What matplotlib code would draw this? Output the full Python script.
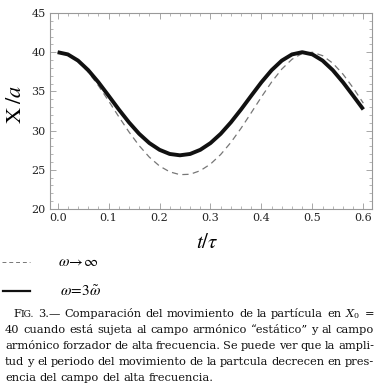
import matplotlib
matplotlib.use("Agg")
import matplotlib.pyplot as plt
from matplotlib.lines import Line2D
from matplotlib.ticker import MultipleLocator

t = [0.00, 0.02, 0.04, 0.06, 0.08, 0.10, 0.12, 0.14, 0.16, 0.18,
     0.20, 0.22, 0.24, 0.26, 0.28, 0.30, 0.32, 0.34, 0.36, 0.38,
     0.40, 0.42, 0.44, 0.46, 0.48, 0.50, 0.52, 0.54, 0.56, 0.58, 0.60]

# campo armónico "estático" (omega -> infinito), línea discontinua
x_estatico = [40.0, 39.70, 38.83, 37.47, 35.74, 33.79, 31.77, 29.83, 28.08, 26.61,
              25.48, 24.74, 24.38, 24.43, 24.89, 25.73, 26.95, 28.49, 30.30, 32.28,
              34.29, 36.20, 37.85, 39.10, 39.84, 39.99, 39.56, 38.60, 37.20, 35.45, 33.50]

# campo forzador de alta frecuencia (omega = 3 omega~), línea continua
x_forzado = [40.0, 39.72, 38.93, 37.71, 36.17, 34.45, 32.70, 31.05, 29.59, 28.41,
             27.55, 27.02, 26.85, 27.02, 27.55, 28.41, 29.59, 31.05, 32.70, 34.45,
             36.17, 37.71, 38.93, 39.72, 40.0, 39.72, 38.93, 37.71, 36.17, 34.45, 32.70]

xticks = [0.0, 0.1, 0.2, 0.3, 0.4, 0.5, 0.6]
yticks = [20, 25, 30, 35, 40, 45]

leyenda = [r"$\omega\!\rightarrow\!\infty$", r"$\omega\!=\!3\tilde{\omega}$"]

pie = [
    [[("F", 8.2), ("IG.", 6.6)], "3.—", "Comparación", "del", "movimiento", "de", "la",
     "partícula", "en", "$X_0$", "="],
    "40 cuando está sujeta al campo armónico “estático” y al campo".split(),
    "armónico forzador de alta frecuencia. Se puede ver que la ampli-".split(),
    "tud y el periodo del movimiento de la partcula decrecen en pres-".split(),
    "encia del campo del alta frecuencia.".split(),
]

W, H = 377, 385
fig = plt.figure(figsize=(W / 100, H / 100), dpi=100)
ax = fig.add_axes([50 / W, 1 - 209 / H, 322 / W, 196 / H])

ax.plot(t, x_estatico, color="#777777", lw=0.9, dashes=(5, 3.5))
ax.plot(t, x_forzado, color="#111111", lw=2.8, solid_capstyle="butt")

ax.set_xlim(-0.015, 0.617)
ax.set_ylim(20, 45)
ax.set_xticks(xticks)
ax.set_yticks(yticks)
ax.set_xticklabels([f"{v:.1f}" for v in xticks])
ax.xaxis.set_minor_locator(MultipleLocator(0.02))
ax.yaxis.set_minor_locator(MultipleLocator(1))
ax.tick_params(which="both", direction="in", top=True, right=True,
               color="#999999", labelsize=8, labelcolor="#222222")
ax.tick_params(which="major", length=4, width=0.6, pad=3)
ax.tick_params(which="minor", length=2, width=0.5)
for lab in ax.get_xticklabels() + ax.get_yticklabels():
    lab.set_family("DejaVu Serif")
for s in ax.spines.values():
    s.set_color("#999999")
    s.set_linewidth(0.8)

ax.set_ylabel(r"$\mathrm{X}\;/a$", fontsize=16, math_fontfamily="stix")
ax.yaxis.set_label_coords(-0.078, 0.536)
ax.set_xlabel(r"$t/\tau$", fontsize=15, math_fontfamily="stix")
ax.xaxis.set_label_coords(0.488, -0.117)

# leyenda debajo del gráfico
fig.add_artist(Line2D([2 / W, 30 / W], [1 - 262 / H] * 2, color="#777777",
                      lw=0.7, dashes=(4, 3)))
fig.add_artist(Line2D([3 / W, 30 / W], [1 - 291 / H] * 2, color="#111111",
                      lw=1.6))
fig.text(58 / W, 1 - 262 / H, leyenda[0], fontsize=11, va="center",
         math_fontfamily="stix")
fig.text(60 / W, 1 - 291 / H, leyenda[1], fontsize=11, va="center",
         math_fontfamily="stix")

# pie de figura justificado
r = fig.canvas.get_renderer()
x_izq, x_der = 5, 374
for i, linea in enumerate(pie):
    y = 1 - (317 + 16 * i) / H
    grupos = []
    for w in linea:
        partes = w if isinstance(w, list) else [(w, 8.2)]
        grupos.append([fig.text(0, y, s, fontsize=fs, family="DejaVu Serif",
                                va="baseline", color="#111111",
                                math_fontfamily="dejavuserif")
                       for s, fs in partes])
    anchos = [[tx.get_window_extent(r).width for tx in g] for g in grupos]
    total = sum(sum(a) for a in anchos)
    x0 = 13 if i == 0 else x_izq
    if i < len(pie) - 1:
        hueco = (x_der - x0 - total) / (len(grupos) - 1)
    else:
        hueco = 3.5
    x = x0
    for g, a in zip(grupos, anchos):
        for tx, aw in zip(g, a):
            tx.set_x(x / W)
            x += aw
        x += hueco

fig.savefig("out.png", dpi=100)
